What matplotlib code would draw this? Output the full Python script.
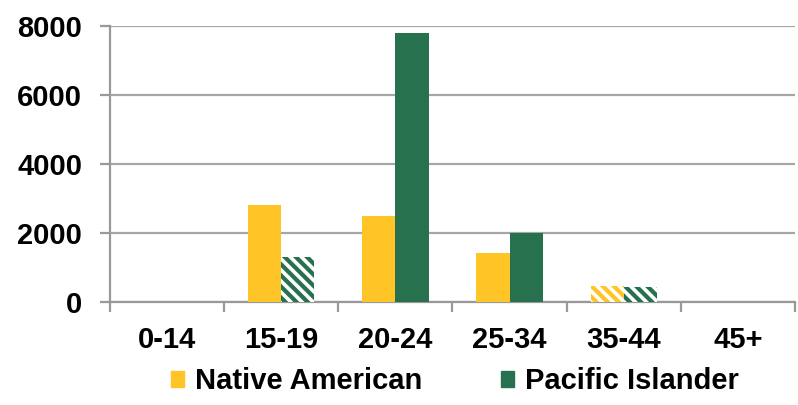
import matplotlib.pyplot as plt
import numpy as np

plt.rcParams['font.family'] = ['Liberation Sans', 'DejaVu Sans']
plt.rcParams['hatch.linewidth'] = 2.6

categories = ['0-14', '15-19', '20-24', '25-34', '35-44', '45+']
native_american = [0, 2800, 2500, 1420, 470, 0]
pacific_islander = [0, 1300, 7800, 2000, 440, 0]
# which bars are drawn striped in the original
native_hatched = [False, False, False, False, True, False]
pacific_hatched = [False, True, False, False, True, False]

yellow = '#FFC425'
green = '#28714F'
grey = '#999999'

fig = plt.figure(figsize=(7.98, 4.05), dpi=100)
ax = fig.add_axes([0.138, 0.254, 0.858, 0.682])

x = np.arange(len(categories))
w = 0.29

for xi, val, h in zip(x, native_american, native_hatched):
    if h:
        ax.bar(xi - w / 2, val, w, color=yellow, edgecolor='white', linewidth=0, hatch='\\\\\\', zorder=3)
    else:
        ax.bar(xi - w / 2, val, w, color=yellow, linewidth=0, zorder=3)
for xi, val, h in zip(x, pacific_islander, pacific_hatched):
    if h:
        ax.bar(xi + w / 2, val, w, color=green, edgecolor='white', linewidth=0, hatch='\\\\\\', zorder=3)
    else:
        ax.bar(xi + w / 2, val, w, color=green, linewidth=0, zorder=3)

ax.set_xlim(-0.5, len(categories) - 0.5)
ax.set_ylim(0, 8000)
ax.set_yticks([0, 2000, 4000, 6000, 8000])
ax.set_xticks(x)
ax.set_xticklabels(categories)
ax.set_xticks(np.arange(-0.5, len(categories)), minor=True)

ax.yaxis.grid(True, color='#A6A6A6', linewidth=1.6, zorder=0)
ax.set_axisbelow(True)

for s in ['top', 'right']:
    ax.spines[s].set_visible(False)
for s in ['left', 'bottom']:
    ax.spines[s].set_color(grey)
    ax.spines[s].set_linewidth(1.6)

ax.tick_params(axis='y', length=7, width=1.6, color=grey, pad=13, labelsize=21)
ax.tick_params(axis='x', which='major', length=0, pad=17, labelsize=21)
ax.tick_params(axis='x', which='minor', length=7, width=1.6, color=grey)
for lbl in ax.get_xticklabels() + ax.get_yticklabels():
    lbl.set_fontweight('bold')

h1 = plt.Rectangle((0, 0), 1, 1, color=yellow)
h2 = plt.Rectangle((0, 0), 1, 1, color=green)
fig.legend([h1, h2], ['Native American', 'Pacific Islander'], loc='center',
           bbox_to_anchor=(0.57, 0.059), ncol=2, frameon=False,
           prop={'size': 21, 'weight': 'bold'}, handlelength=0.45, handleheight=0.45,
           handletextpad=0.38, columnspacing=2.7)

plt.savefig('out.png', dpi=100)
